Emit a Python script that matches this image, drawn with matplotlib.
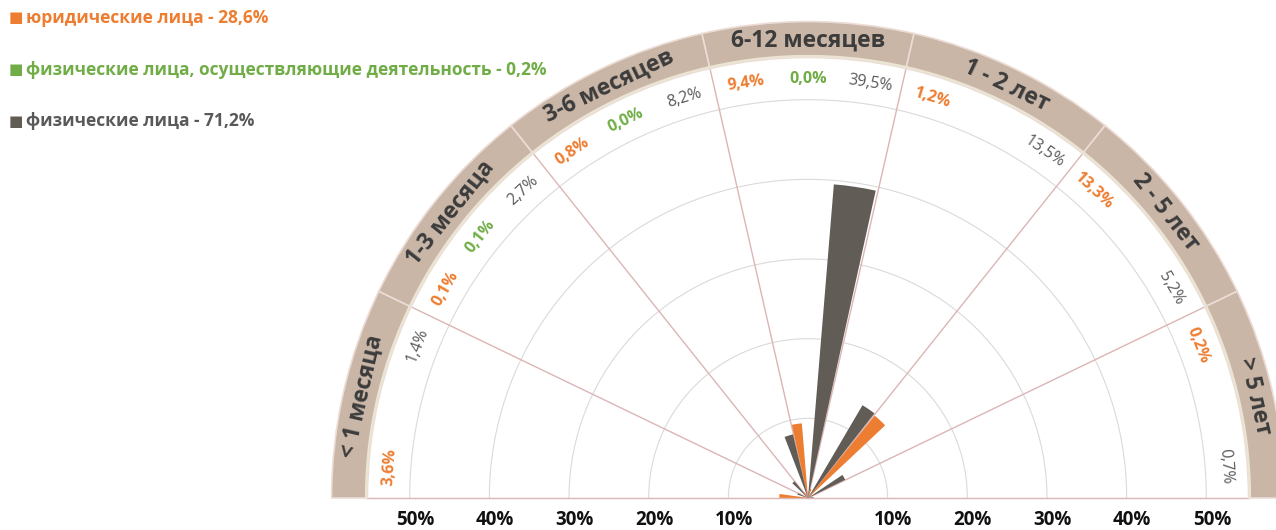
import numpy as np
import matplotlib
matplotlib.use("Agg")
import matplotlib.pyplot as plt

# ---- data ----
categories = ['< 1 месяца', '1-3 месяца', '3-6 месяцев', '6-12 месяцев',
              '1 - 2 лет', '2 - 5 лет', '> 5 лет']
legal_entities = [3.6, 0.1, 0.8, 9.4, 1.2, 13.3, 0.2]
entrepreneurs = [np.nan, 0.1, 0.0, 0.0, np.nan, np.nan, np.nan]
individuals = [1.4, 2.7, 8.2, 39.5, 13.5, 5.2, 0.7]
series_names = ['юридические лица',
                'физические лица, осуществляющие деятельность',
                'физические лица']
series_totals = [28.6, 0.2, 71.2]
axis_ticks = [10, 20, 30, 40, 50]

series_values = [legal_entities, entrepreneurs, individuals]
bar_colors = ['#ED7D31', '#70AD47', '#615C56']
label_colors = ['#ED7D31', '#70AD47', '#595959']
label_weights = ['bold', 'bold', 'normal']

FONT = ['Open Sans', 'DejaVu Sans']
plt.rcParams['font.family'] = FONT

W, H = 1276, 530
fig = plt.figure(figsize=(W / 100, H / 100), dpi=100)

cx, cy = 808, 498          # centre in px (from top-left)
R = 478                    # px for r = 60
rect = [(cx - R) / W, (H - cy - R) / H, 2 * R / W, 2 * R / H]
ax = fig.add_axes(rect, projection='polar')
ax.set_ylim(0, 60)
ax.axis('off')

ncat = len(categories)
nser = len(series_values)
nslots = ncat * nser
slot = np.pi / nslots
sector = np.pi / ncat

band_in, band_out = 55.3, 59.8

# grid arcs
tt = np.linspace(0, np.pi, 400)
for r in axis_ticks:
    ax.plot(tt, np.full_like(tt, r), color='#dadada', lw=0.8, zorder=1)

# radial boundary lines incl. baseline
for k in range(ncat + 1):
    th = k * sector
    ax.plot([th, th], [0, band_in], color='#dcb5b5', lw=1.0, zorder=1.5)

# category band
sec_centers = np.pi - (np.arange(ncat) + 0.5) * sector
ax.bar(sec_centers, band_out - band_in, width=sector, bottom=band_in,
       color='#C9B6A7', edgecolor='#ecdcd6', linewidth=1.2, zorder=2)
ax.plot(tt, np.full_like(tt, band_in + 0.15), color='#ebe3d3', lw=2.0, zorder=2.5)

for i, name in enumerate(categories):
    th = sec_centers[i]
    ax.text(th, (band_in + band_out) / 2 - 0.1, name, rotation=np.degrees(th) - 90,
            rotation_mode='anchor', ha='center', va='center',
            fontsize=16.5, fontweight='bold', color='#3c3c3c', zorder=5, clip_on=False)

# bars + value labels
for j, vals in enumerate(series_values):
    for i, v in enumerate(vals):
        if np.isnan(v):
            continue
        k = nser * i + j
        th = np.pi - (k + 0.5) * slot
        ax.bar(th, v, width=slot * 0.9, bottom=0, color=bar_colors[j],
               edgecolor='none', zorder=3)
        txt = f'{v:.1f}%'.replace('.', ',')
        ax.text(th, 52.6, txt, rotation=np.degrees(th) - 90, rotation_mode='anchor',
                ha='center', va='center', fontsize=11.5, fontweight=label_weights[j],
                color=label_colors[j], zorder=5)

# horizontal axis labels (overlay cartesian axes with same geometry)
ax2 = fig.add_axes(rect)
ax2.set_xlim(-60, 60)
ax2.set_ylim(-60, 60)
ax2.axis('off')
for t in axis_ticks:
    for s in (-1, 1):
        ax2.text(s * t + 0.7, -2.7, f'{t}%', ha='center', va='center',
                 fontsize=13.5, fontweight='bold', color='#111111')

# legend
leg_y = [18, 70, 121]
for j in range(nser):
    txt = f'{series_names[j]} - {series_totals[j]:.1f}%'.replace('.', ',')
    fig.text(9 / W, 1 - leg_y[j] / H, '■', ha='left', va='center',
             fontsize=11, color=bar_colors[j], family=['DejaVu Sans'])
    fig.text(26 / W, 1 - leg_y[j] / H, txt, ha='left', va='center',
             fontsize=12.5, fontweight='bold', color=label_colors[j])

fig.savefig('out.png', dpi=100)
